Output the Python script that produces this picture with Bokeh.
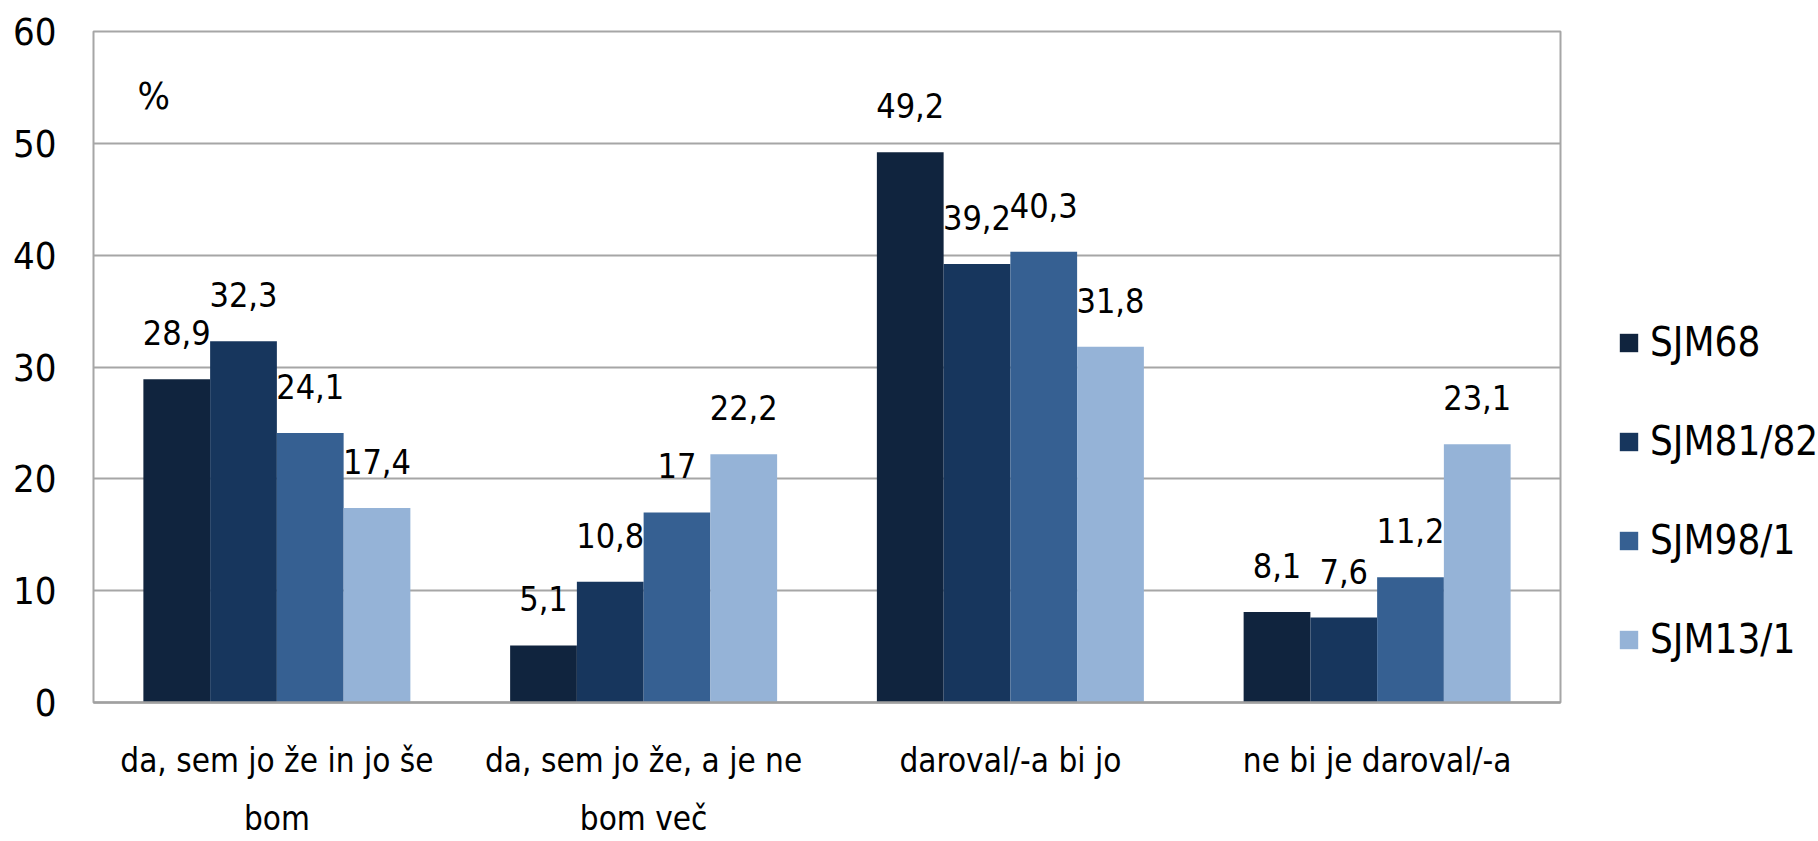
from bokeh.plotting import figure
from bokeh.layouts import row
from bokeh.models import ColumnDataSource, LabelSet, Legend, LegendItem, Label, FactorRange
from bokeh.core.properties import value
from bokeh.transform import dodge
from bokeh.embed import file_html
from bokeh.resources import INLINE

categories = ["da, sem jo že in jo še\nbom", "da, sem jo že, a je ne\nbom več", "daroval/-a bi jo", "ne bi je daroval/-a"]
series_names = ["SJM68", "SJM81/82", "SJM98/1", "SJM13/1"]
sjm68 = [28.9, 5.1, 49.2, 8.1]
sjm81 = [32.3, 10.8, 39.2, 7.6]
sjm98 = [24.1, 17.0, 40.3, 11.2]
sjm13 = [17.4, 22.2, 31.8, 23.1]
y_ticks = [0, 10, 20, 30, 40, 50, 60]

colors = ["#10243e", "#17365d", "#366092", "#95b3d7"]
offsets = [-0.273, -0.091, 0.091, 0.273]
FONT = "DejaVu Sans Condensed"


def fmt(v):
    s = ("%.1f" % v).replace(".", ",")
    return s[:-2] if s.endswith(",0") else s


data = {"cat": categories}
for name, vals in zip(series_names, [sjm68, sjm81, sjm98, sjm13]):
    data[name] = vals
    data[name + "_lbl"] = [fmt(v) for v in vals]
source = ColumnDataSource(data)

p = figure(x_range=FactorRange(*categories, range_padding=0), y_range=(0, 60),
           width=1562, height=841, output_backend="svg", toolbar_location=None,
           min_border_left=93, min_border_top=31, min_border_bottom=138, min_border_right=2)

# legend panel (separate figure sharing the ranges)
pl = figure(x_range=p.x_range, y_range=p.y_range, width=256, height=841,
            output_backend="svg", toolbar_location=None, min_border=0,
            x_axis_location=None, y_axis_location=None, outline_line_color=None)
pl.grid.grid_line_color = None

items = []
for name, off, col in zip(series_names, offsets, colors):
    p.vbar(x=dodge("cat", off, range=p.x_range), top=name, width=0.182, source=source,
           fill_color=col, line_color=None)
    rl = pl.vbar(x=dodge("cat", off, range=p.x_range), top=name, width=0.182, source=source,
                 fill_color=col, line_color=None, visible=False)
    items.append(LegendItem(label=name, renderers=[rl]))
    lbl = LabelSet(x=dodge("cat", off, range=p.x_range), y=name, text=name + "_lbl", source=source,
                   text_align="center", text_baseline="alphabetic", y_offset=34,
                   text_font=value(FONT), text_font_size="34px", text_color="black")
    p.add_layout(lbl)

legend = Legend(items=items, location=(55, 40), orientation="vertical",
                glyph_width=23, glyph_height=23, label_text_font=FONT, label_text_font_size="40px",
                label_text_color="black", inactive_fill_alpha=0,
                label_height=46, label_standoff=10, spacing=53, padding=0, margin=0,
                border_line_color=None, background_fill_alpha=0)
pl.add_layout(legend, "center")

p.add_layout(Label(x=0.12, y=54.2, text="%", text_font=FONT, text_font_size="38px",
                   text_align="left", text_baseline="middle", text_color="black"))

p.outline_line_color = "#a6a6a6"
p.outline_line_width = 2
p.xgrid.grid_line_color = None
p.ygrid.grid_line_color = "#a6a6a6"
p.ygrid.grid_line_width = 2
p.yaxis.ticker = y_ticks
p.yaxis.axis_line_color = None
p.yaxis.major_tick_line_color = None
p.yaxis.minor_tick_line_color = None
p.yaxis.major_label_standoff = 31
p.yaxis.major_label_text_font = FONT
p.yaxis.major_label_text_font_size = "38px"
p.yaxis.major_label_text_color = "black"

p.xaxis.axis_line_color = "#a0a0a0"
p.xaxis.axis_line_width = 2.5
p.xaxis.major_tick_line_color = None
p.xaxis.minor_tick_line_color = None
p.xaxis.major_tick_out = 0
p.xaxis.major_tick_in = 0
p.xaxis.major_label_standoff = 38
p.xaxis.major_label_text_font = FONT
p.xaxis.major_label_text_font_size = "33px"
p.xaxis.major_label_text_color = "black"
p.xaxis.major_label_text_line_height = 1.5

open("out.html", "w").write(file_html(row(p, pl), INLINE))
